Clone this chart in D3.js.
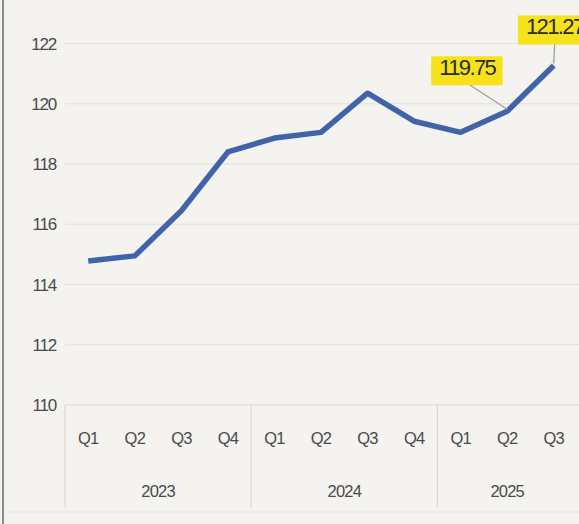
<!DOCTYPE html>
<html>
<head>
<meta charset="utf-8">
<script src="https://cdn.jsdelivr.net/npm/d3@7"></script>
<style>
  body { margin: 0; background: #f5f3ef; }
  svg { display: block; font-family: "Liberation Sans", Arial, sans-serif; }
</style>
</head>
<body>
<svg id="chart"></svg>
<script>
const width = 579, height = 524;

const years = ['2023', '2024', '2025'];
const quarters = ['Q1', 'Q2', 'Q3', 'Q4', 'Q1', 'Q2', 'Q3', 'Q4', 'Q1', 'Q2', 'Q3'];
const quarterYears = ['2023', '2023', '2023', '2023', '2024', '2024', '2024', '2024', '2025', '2025', '2025'];
const values = [114.78, 114.95, 116.45, 118.4, 118.86, 119.05, 120.35, 119.42, 119.05, 119.75, 121.27];
const yTicks = [110, 112, 114, 116, 118, 120, 122];
const labelled = [9, 10];

const svg = d3.select('#chart').attr('width', width).attr('height', height);

const keys = quarters.map((q, i) => quarterYears[i] + q);

const x = d3.scaleBand().domain(keys).range([65, 577]);
const y = d3.scaleLinear().domain([110, 122]).range([405, 43.5]);

// left frame line
svg.append('line')
    .attr('x1', 3).attr('x2', 3).attr('y1', 0).attr('y2', height)
    .attr('stroke', '#8a8a8a').attr('stroke-width', 2);

// gridlines
svg.append('g').selectAll('line').data(yTicks).join('line')
    .attr('x1', 65).attr('x2', width)
    .attr('y1', d => y(d)).attr('y2', d => y(d))
    .attr('stroke', '#e3e0da').attr('stroke-width', 1.2);

svg.append('g').selectAll('text').data(yTicks).join('text')
    .attr('x', 56).attr('y', d => y(d) + 6)
    .attr('text-anchor', 'end')
    .attr('fill', '#4a4a4a')
    .style('font-size', '17px')
    .style('letter-spacing', '-1.2px')
    .text(d => d);

// category axis
const catAxis = svg.append('g');
catAxis.append('line')
    .attr('x1', 65).attr('x2', width).attr('y1', 405).attr('y2', 405)
    .attr('stroke', '#e3e0da').attr('stroke-width', 1.2);
catAxis.append('line')
    .attr('x1', 8).attr('x2', width).attr('y1', 512).attr('y2', 512)
    .attr('stroke', '#e6e3dd').attr('stroke-width', 1.2);

const yearStarts = years.map(yr => keys[quarterYears.indexOf(yr)]);
catAxis.selectAll('.sep').data(yearStarts).join('line')
    .attr('class', 'sep')
    .attr('x1', d => x(d)).attr('x2', d => x(d))
    .attr('y1', 405).attr('y2', 508)
    .attr('stroke', '#dedad3').attr('stroke-width', 1.2);

catAxis.selectAll('.q').data(keys).join('text')
    .attr('class', 'q')
    .attr('x', d => x(d) + x.bandwidth() / 2)
    .attr('y', 444)
    .attr('text-anchor', 'middle')
    .attr('fill', '#4a4a4a')
    .style('font-size', '16.5px')
    .style('letter-spacing', '-0.8px')
    .text((d, i) => quarters[i]);

catAxis.selectAll('.yr').data(years).join('text')
    .attr('class', 'yr')
    .attr('x', yr => {
        const ks = keys.filter((k, i) => quarterYears[i] === yr);
        return (x(ks[0]) + x(ks[ks.length - 1]) + x.bandwidth()) / 2;
    })
    .attr('y', 497)
    .attr('text-anchor', 'middle')
    .attr('fill', '#4a4a4a')
    .style('font-size', '16.5px')
    .style('letter-spacing', '-0.8px')
    .text(d => d);

// line
const line = d3.line()
    .x((d, i) => x(keys[i]) + x.bandwidth() / 2)
    .y(d => y(d));

svg.append('path')
    .attr('d', line(values))
    .attr('fill', 'none')
    .attr('stroke', '#4063aa')
    .attr('stroke-width', 5.5)
    .attr('stroke-linejoin', 'round');

// callout labels
const offsets = { 9: [-40, -28], 10: [1, -23] };
labelled.forEach(i => {
    const px = x(keys[i]) + x.bandwidth() / 2;
    const py = y(values[i]);
    const [dx, dy] = offsets[i];
    const lx = px + dx, ly = py + dy;
    svg.append('line')
        .attr('x1', px).attr('y1', py - 2)
        .attr('x2', lx).attr('y2', ly)
        .attr('stroke', '#9aa0a8').attr('stroke-width', 1.3);
    const g = svg.append('g');
    const t = g.append('text')
        .attr('x', lx).attr('y', ly - 8)
        .attr('text-anchor', 'middle')
        .attr('fill', '#2b2b2b')
        .style('font-size', '22px')
        .style('letter-spacing', '-1.6px')
        .text(values[i].toFixed(2));
    const bb = t.node().getBBox();
    g.insert('rect', 'text')
        .attr('x', bb.x - 8).attr('y', bb.y + 1)
        .attr('width', bb.width + 14).attr('height', bb.height + 4)
        .attr('fill', '#f6e21a');
});
</script>
</body>
</html>
